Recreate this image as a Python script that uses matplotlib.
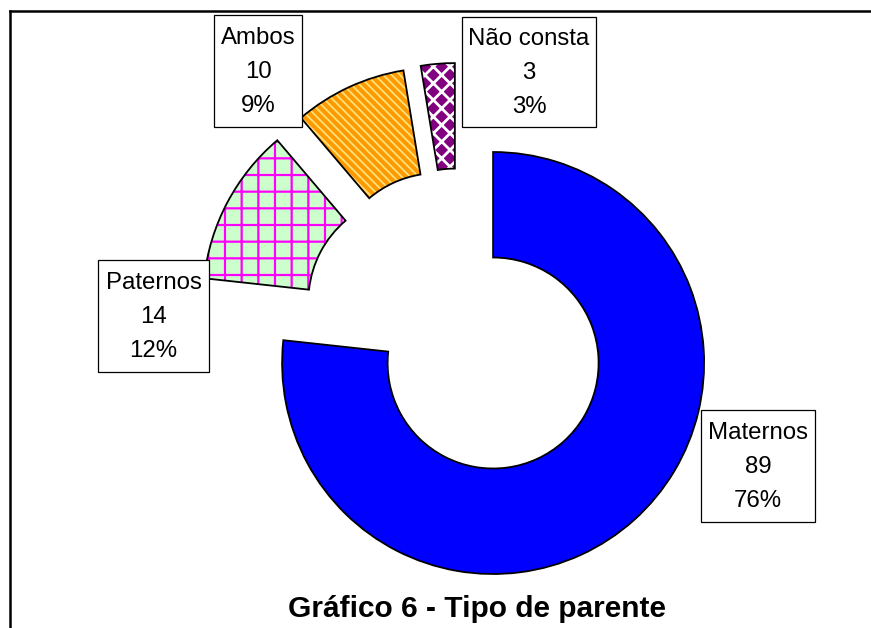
import matplotlib.pyplot as plt
from matplotlib.patches import Rectangle
from matplotlib.lines import Line2D

plt.rcParams['font.family'] = ['Liberation Sans', 'DejaVu Sans']
plt.rcParams['hatch.linewidth'] = 1.4

# dados do gráfico
categorias = ['Maternos', 'Paternos', 'Ambos', 'Não consta']
valores = [89, 14, 10, 3]
percentuais = ['76%', '12%', '9%', '3%']

cores = ['#0000FF', '#CCFFCC', '#FF9900', '#800080']
cores_hachura = ['#0000FF', '#FF00FF', '#FFE27A', '#FFFFFF']
hachuras = ['', '+', '\\\\\\\\', 'xx']
esp_hachura = [1.0, 1.6, 1.3, 2.0]

W, H = 871, 628
R_PX = 211.0  # raio externo em pixels


def px(x, y):
    # pixel da imagem (origem no canto superior esquerdo) -> coordenada do eixo
    return x / R_PX, (H - y) / R_PX


# caixas dos rótulos: centro x, centro y, largura, altura (pixels)
caixas = [(758, 466, 114, 112), (153.5, 316, 111, 112),
          (258, 71, 88, 112), (529, 72, 134, 110)]

fig = plt.figure(figsize=(W / 100, H / 100), dpi=100)
ax = fig.add_axes([0, 0, 1, 1])

centro = px(459, 325)
explode = [0.242] * len(valores)

fatias, _ = ax.pie(valores, colors=cores, startangle=90, counterclock=False,
                   explode=explode, radius=1, center=centro,
                   wedgeprops=dict(width=0.5, linewidth=0))
for w, hc, h, lw in zip(fatias, cores_hachura, hachuras, esp_hachura):
    w.set_edgecolor(hc)
    w.set_hatch(h)
    if hasattr(w, 'set_hatch_linewidth'):
        w.set_hatch_linewidth(lw)

# contorno preto por cima
ax.pie(valores, startangle=90, counterclock=False, explode=explode,
       radius=1, center=centro,
       wedgeprops=dict(width=0.5, fill=False, edgecolor='black', linewidth=1.3))

for nome, v, p, (cx, cy, bw, bh) in zip(categorias, valores, percentuais, caixas):
    x0, y0 = px(cx - bw / 2, cy + bh / 2)
    ax.add_patch(Rectangle((x0, y0), bw / R_PX, bh / R_PX, facecolor='white',
                           edgecolor='black', linewidth=0.9, zorder=3))
    tx, ty = px(cx, cy + 1)
    ax.text(tx, ty, f'{nome}\n{v}\n{p}', ha='center', va='center',
            multialignment='center', fontsize=17.3, linespacing=1.68, zorder=4)

ax.set_xlim(0, W / R_PX)
ax.set_ylim(0, H / R_PX)
ax.axis('off')

fig.text(477 / W, 1 - 617 / H, 'Gráfico 6 - Tipo de parente', ha='center',
         va='baseline', fontsize=21.5, fontweight='bold')

# moldura (só borda superior e esquerda aparecem)
fig.add_artist(Line2D([9.5 / W, 9.5 / W], [0, 1 - 11 / H], color='black', linewidth=1.8))
fig.add_artist(Line2D([9.5 / W, 1], [1 - 11 / H, 1 - 11 / H], color='black', linewidth=1.8))

fig.savefig('out.png', dpi=100)
